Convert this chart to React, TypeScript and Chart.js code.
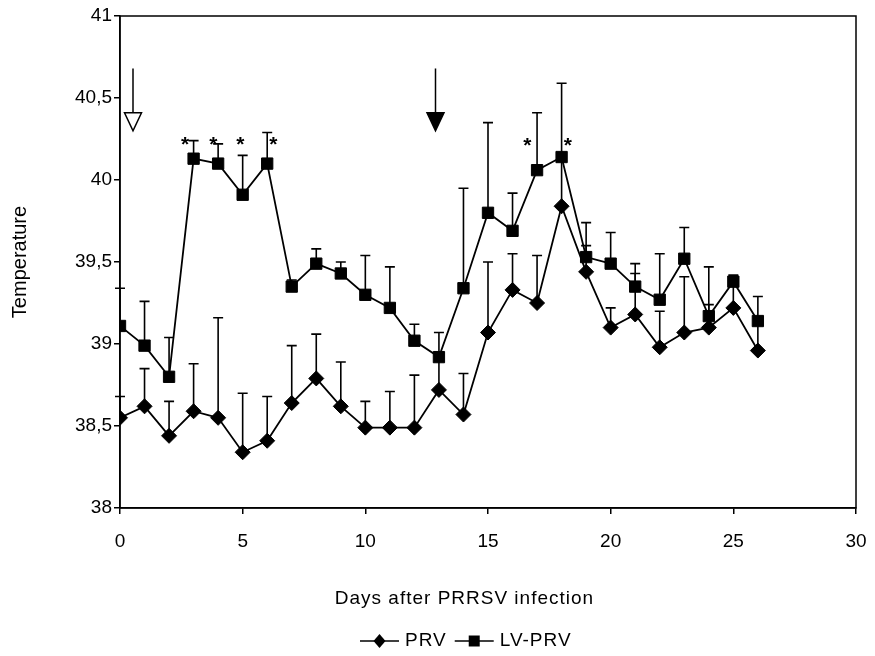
import React, { useEffect, useRef } from 'react';
import { Chart, registerables } from 'chart.js';

Chart.register(...registerables);

// ---- data ----
const days = [0, 1, 2, 3, 4, 5, 6, 7, 8, 9, 10, 11, 12, 13, 14, 15, 16, 17, 18, 19, 20, 21, 22, 23, 24, 25, 26];
const prvMean = [38.55, 38.62, 38.44, 38.59, 38.55, 38.34, 38.41, 38.64, 38.79, 38.62, 38.49, 38.49, 38.49, 38.72, 38.57, 39.07, 39.33, 39.25, 39.84, 39.44, 39.1, 39.18, 38.98, 39.07, 39.1, 39.22, 38.96];
const prvSd = [0.13, 0.23, 0.21, 0.29, 0.61, 0.36, 0.27, 0.35, 0.27, 0.27, 0.16, 0.22, 0.32, 0.23, 0.25, 0.43, 0.22, 0.29, 0.28, 0.16, 0.12, 0.25, 0.22, 0.34, 0.14, 0.18, 0.16];
const lvMean = [39.11, 38.99, 38.8, 40.13, 40.1, 39.91, 40.1, 39.35, 39.49, 39.43, 39.3, 39.22, 39.02, 38.92, 39.34, 39.8, 39.69, 40.06, 40.14, 39.53, 39.49, 39.35, 39.27, 39.52, 39.17, 39.38, 39.14];
const lvSd = [0.23, 0.27, 0.24, 0.11, 0.12, 0.24, 0.19, 0.04, 0.09, 0.07, 0.24, 0.25, 0.1, 0.15, 0.61, 0.55, 0.23, 0.35, 0.45, 0.21, 0.19, 0.14, 0.28, 0.19, 0.3, 0.04, 0.15];
const seriesNames = ['PRV', 'LV-PRV'];

// significance stars (day, temperature at glyph centre)
const starDays = [2.65, 3.8, 4.9, 6.25, 16.6, 18.25];
const starTemps = [40.24, 40.24, 40.24, 40.24, 40.23, 40.23];

// arrows (day, filled?)
const arrowDays = [0.53, 12.86];
const arrowFilled = [false, true];
const arrowTopTemp = 40.68;
const arrowTipTemp = 40.3;

const xTitle = 'Days after PRRSV infection';
const yTitle = 'Temperature';

const FONT = "'Liberation Sans', Arial, sans-serif";

const errorBarPlugin = {
  id: 'errorBars',
  beforeDatasetsDraw(chart: any) {
    const { ctx, scales } = chart;
    const xs = scales.x;
    const ys = scales.y;
    const sets = [
      { mean: prvMean, sd: prvSd },
      { mean: lvMean, sd: lvSd },
    ];
    ctx.save();
    ctx.strokeStyle = '#000';
    ctx.lineWidth = 1.6;
    sets.forEach((s) => {
      days.forEach((d, i) => {
        const x = xs.getPixelForValue(d);
        const y0 = ys.getPixelForValue(s.mean[i]);
        const y1 = ys.getPixelForValue(s.mean[i] + s.sd[i]);
        ctx.beginPath();
        ctx.moveTo(x, y0);
        ctx.lineTo(x, y1);
        ctx.moveTo(x - 5, y1);
        ctx.lineTo(x + 5, y1);
        ctx.stroke();
      });
    });
    ctx.restore();
  },
  afterDraw(chart: any) {
    const { ctx, scales, chartArea } = chart;
    const xs = scales.x;
    const ys = scales.y;
    ctx.save();
    // frame
    ctx.strokeStyle = '#000';
    ctx.lineWidth = 1.5;
    ctx.strokeRect(chartArea.left, chartArea.top, chartArea.right - chartArea.left, chartArea.bottom - chartArea.top);

    // stars
    ctx.fillStyle = '#000';
    ctx.font = `bold 21px ${FONT}`;
    ctx.textAlign = 'center';
    ctx.textBaseline = 'alphabetic';
    starDays.forEach((d, i) => {
      ctx.fillText('*', xs.getPixelForValue(d), ys.getPixelForValue(starTemps[i]) + 10);
    });

    // arrows
    arrowDays.forEach((d, i) => {
      const x = xs.getPixelForValue(d);
      const yTop = ys.getPixelForValue(arrowTopTemp);
      const yTip = ys.getPixelForValue(arrowTipTemp);
      const headH = 18;
      const headW = 8.5;
      ctx.beginPath();
      ctx.moveTo(x, yTop);
      ctx.lineTo(x, yTip - headH);
      ctx.lineWidth = 1.5;
      ctx.stroke();
      ctx.beginPath();
      ctx.moveTo(x - headW, yTip - headH);
      ctx.lineTo(x + headW, yTip - headH);
      ctx.lineTo(x, yTip);
      ctx.closePath();
      ctx.fillStyle = arrowFilled[i] ? '#000' : '#fff';
      ctx.fill();
      ctx.stroke();
    });

    // x title
    const cx = chartArea.left + (chartArea.right - chartArea.left) * 0.468;
    ctx.fillStyle = '#000';
    ctx.font = `19px ${FONT}`;
    (ctx as any).letterSpacing = '1px';
    ctx.textAlign = 'center';
    ctx.textBaseline = 'middle';
    ctx.fillText(xTitle, cx, 599);

    // legend
    const ly = 641;
    let lx = 360;
    ctx.font = `19px ${FONT}`;
    (ctx as any).letterSpacing = '1px';
    ctx.textAlign = 'left';
    ctx.lineWidth = 1.6;
    seriesNames.forEach((name, i) => {
      const lineW = 39;
      ctx.beginPath();
      ctx.moveTo(lx, ly);
      ctx.lineTo(lx + lineW, ly);
      ctx.stroke();
      const mx = lx + lineW / 2;
      ctx.beginPath();
      if (i === 0) {
        ctx.moveTo(mx - 6, ly);
        ctx.lineTo(mx, ly - 7);
        ctx.lineTo(mx + 6, ly);
        ctx.lineTo(mx, ly + 7);
        ctx.closePath();
      } else {
        ctx.rect(mx - 5.5, ly - 5.5, 11, 11);
      }
      ctx.fill();
      lx += lineW + 6;
      ctx.fillText(name, lx, ly);
      lx += ctx.measureText(name).width + 8;
    });
    ctx.restore();
  },
};

export default function App() {
  const ref = useRef<HTMLCanvasElement>(null);
  useEffect(() => {
    Chart.defaults.font.family = FONT;
    Chart.defaults.color = '#000';
    const chart = new Chart(ref.current as HTMLCanvasElement, {
      type: 'line',
      data: {
        datasets: [
          {
            label: seriesNames[0],
            data: days.map((d, i) => ({ x: d, y: prvMean[i] })),
            borderColor: '#000',
            backgroundColor: '#000',
            borderWidth: 1.8,
            pointStyle: 'rectRot',
            pointRadius: 7.5,
            pointBorderWidth: 1,
            pointBackgroundColor: '#000',
            pointBorderColor: '#000',
            tension: 0,
          },
          {
            label: seriesNames[1],
            data: days.map((d, i) => ({ x: d, y: lvMean[i] })),
            borderColor: '#000',
            backgroundColor: '#000',
            borderWidth: 1.8,
            pointStyle: 'rect',
            pointRadius: 8,
            pointBorderWidth: 1,
            pointBackgroundColor: '#000',
            pointBorderColor: '#000',
            tension: 0,
          },
        ],
      },
      options: {
        responsive: false,
        animation: false,
        layout: { padding: { left: 8, right: 19, top: 16, bottom: 0 } },
        plugins: {
          legend: { display: false },
          tooltip: { enabled: false },
        },
        scales: {
          x: {
            type: 'linear',
            min: 0,
            max: 30,
            ticks: { stepSize: 5, font: { size: 19 }, color: '#000', padding: 16 },
            grid: { drawOnChartArea: false, drawTicks: true, tickLength: 6, color: '#000', lineWidth: 1.5 },
            border: { color: '#000', width: 1.5 },
            afterFit: (s: any) => {
              s.height = 148;
              s.paddingLeft = 0;
              s.paddingRight = 0;
            },
          },
          y: {
            type: 'linear',
            min: 38,
            max: 41,
            ticks: {
              stepSize: 0.5,
              font: { size: 19 },
              color: '#000',
              padding: 2,
              callback: (v: any) => String(v).replace('.', ','),
            },
            grid: { drawOnChartArea: false, drawTicks: true, tickLength: 6, color: '#000', lineWidth: 1.5 },
            border: { color: '#000', width: 1.5 },
            title: { display: true, text: yTitle, font: { size: 20 }, color: '#000', padding: 0 },
            afterFit: (s: any) => {
              s.width = 112;
              s.paddingTop = 0;
              s.paddingBottom = 0;
            },
          },
        },
      },
      plugins: [errorBarPlugin],
    });
    return () => chart.destroy();
  }, []);
  return (
    <div style={{ position: 'absolute', left: 0, top: 0, width: 875, height: 656, background: '#fff' }}>
      <canvas ref={ref} width={875} height={656} style={{ display: 'block' }} />
    </div>
  );
}
